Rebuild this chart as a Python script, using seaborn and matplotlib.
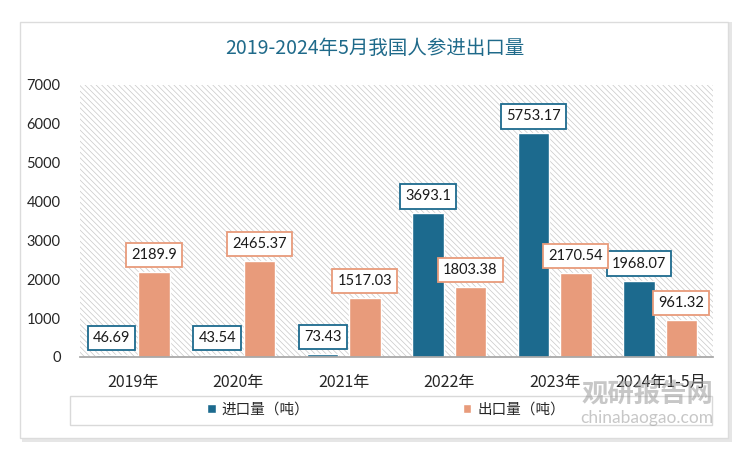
import pandas as pd
import matplotlib.pyplot as plt
import seaborn as sns
from matplotlib.patches import Rectangle

# data
years = ["2019年", "2020年", "2021年", "2022年", "2023年", "2024年1-5月"]
import_vals = [46.69, 43.54, 73.43, 3693.1, 5753.17, 1968.07]
export_vals = [2189.9, 2465.37, 1517.03, 1803.38, 2170.54, 961.32]
series_names = ["进口量（吨）", "出口量（吨）"]
colors = ["#1c6a8e", "#e89b7b"]

df = pd.DataFrame({
    "year": years * 2,
    "series": [series_names[0]] * len(years) + [series_names[1]] * len(years),
    "value": import_vals + export_vals,
})

sns.set_theme(style="white")
plt.rcParams["font.family"] = ["Lato", "Noto Sans CJK SC", "DejaVu Sans"]
plt.rcParams["hatch.linewidth"] = 0.5

fig = plt.figure(figsize=(7.5, 4.59), dpi=100)

# card with soft shadow
fig.patches.append(Rectangle((22 / 750, 1 - 442 / 459), 710 / 750, 420 / 459,
                             transform=fig.transFigure, fc="#e6e6e6", ec="none", zorder=-2))
fig.patches.append(Rectangle((20 / 750, 1 - 438 / 459), 708 / 750, 416 / 459,
                             transform=fig.transFigure, fc="white", ec="#dcdcdc", lw=1, zorder=-1))

ax = fig.add_axes([80 / 750, 102 / 459, 633 / 750, 272 / 459])
ax.set_zorder(2)
ax.patch.set_alpha(0)
# hatched plot area
ax.add_patch(Rectangle((0, 0), 1, 1, transform=ax.transAxes, fc="white",
                       ec="#c8c8c8", lw=0, hatch="\\\\\\\\\\\\", zorder=0))

sns.barplot(data=df, x="year", y="value", hue="series", palette=colors,
            saturation=1, width=0.8, gap=0.25, ax=ax, edgecolor="white",
            linewidth=1, legend=False, zorder=2)

ax.set_ylim(0, 7000)
ax.set_yticks(range(0, 7001, 1000))
ax.set_xlabel("")
ax.set_ylabel("")
for s in ["top", "right", "left"]:
    ax.spines[s].set_visible(False)
ax.spines["bottom"].set_color("#a6a6a6")
ax.tick_params(axis="y", length=0, pad=14, labelsize=10.5, labelcolor="#262626")
ax.tick_params(axis="x", length=0, pad=12, labelsize=11.5, labelcolor="#262626")
for lbl in ax.get_xticklabels():
    lbl.set_family(["Noto Sans CJK SC", "DejaVu Sans"])

# data labels in boxes
for cont, col in zip(ax.containers, colors):
    for bar in cont:
        h = bar.get_height()
        ax.annotate(f"{h:g}", (bar.get_x() + bar.get_width() / 2, h),
                    xytext=(0, 17), textcoords="offset pixels",
                    ha="center", va="center", fontsize=10.5, color="#1a1a1a",
                    bbox=dict(boxstyle="square,pad=0.35", fc="white", ec=col, lw=1.3),
                    zorder=5)

fig.text(0.5, 1 - 48 / 459, "2019-2024年5月我国人参进出口量", ha="center", va="center",
         fontsize=14, color="#1f6a8a", family=["Noto Sans CJK SC", "DejaVu Sans"])

# legend box
fig.patches.append(Rectangle((70 / 750, 1 - 425 / 459), 642 / 750, 29 / 459,
                             transform=fig.transFigure, fc="white", ec="#d9d9d9", lw=1, zorder=1))
handles = [Rectangle((0, 0), 1, 1, fc=c) for c in colors]
leg = fig.legend(handles, series_names, loc="center", bbox_to_anchor=(386 / 750, 1 - 410 / 459),
                 ncol=2, frameon=False, handlelength=0.6, handleheight=0.6,
                 handletextpad=0.4, columnspacing=10.5,
                 prop={"family": ["Noto Sans CJK SC", "DejaVu Sans"], "size": 10.5})
leg.set_zorder(3)

# watermark
fig.text(713 / 750, 1 - 395 / 459, "观研报告网", ha="right", va="center", fontsize=19,
         color="#9a9a9a", alpha=0.55, fontweight="bold", family=["Noto Sans CJK SC"], zorder=6)
fig.text(713 / 750, 1 - 418 / 459, "chinabaogao.com", ha="right", va="center", fontsize=12.5,
         color="#9a9a9a", alpha=0.55, zorder=6)

fig.savefig("out.png", dpi=100)
